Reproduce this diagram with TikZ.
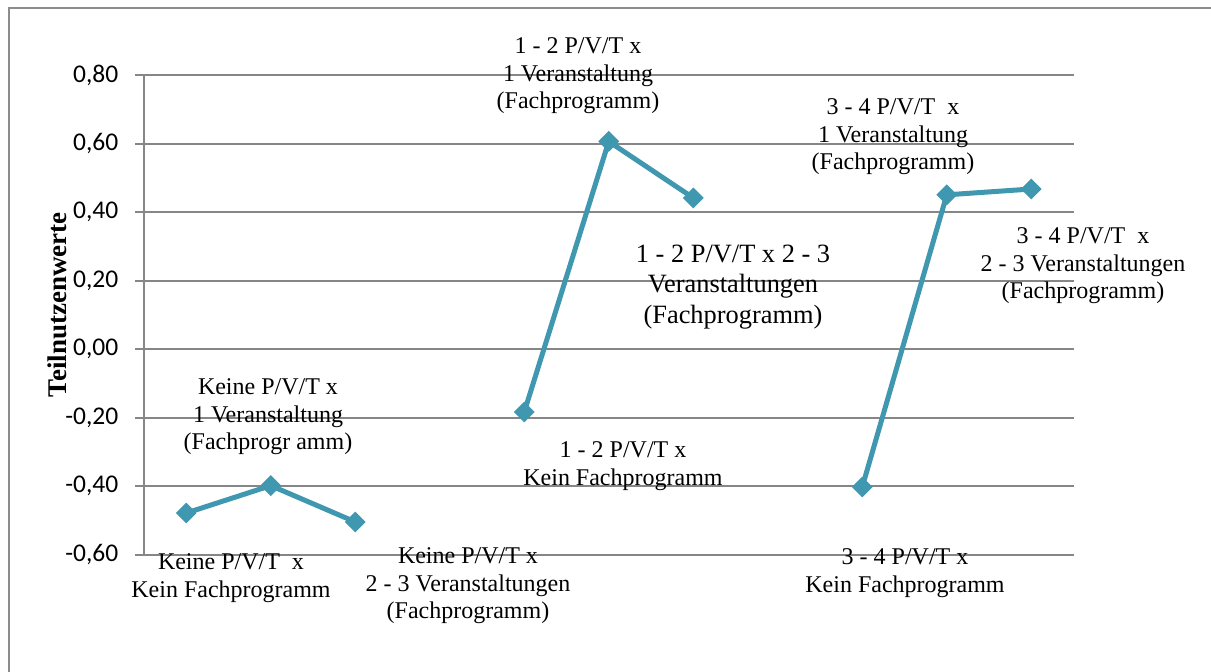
\documentclass[tikz,border=0pt]{standalone}
\usepackage{fontspec}
\setmainfont{Liberation Serif}
\newfontfamily\axisfont{Carlito}
\usetikzlibrary{shapes.geometric}

\definecolor{serieblue}{RGB}{64,152,176}
\definecolor{gridgrey}{RGB}{134,134,134}
\definecolor{framegrey}{RGB}{140,140,140}

\tikzset{
  gridline/.style={draw=gridgrey, line width=1.8pt},
  ticklabel/.style={anchor=east, inner sep=0pt, font=\axisfont\fontsize{25.5}{30}\selectfont},
  series/.style={draw=serieblue, line width=5pt, line join=round},
  marker/.style={diamond, fill=serieblue, inner sep=0pt, minimum width=21pt, minimum height=21pt},
  catlabel/.style={align=center, inner sep=0pt, font=\fontsize{24}{27.6}\selectfont},
  biglabel/.style={align=center, inner sep=0pt, font=\fontsize{26.4}{30.5}\selectfont},
}

% value -> vertical pixel position
\newcommand{\yv}[1]{349.3-342.5*(#1)}
% category index -> horizontal pixel position
\newcommand{\xc}[1]{186.25+84.5*(#1)}

\begin{document}
\begin{tikzpicture}[x=1pt, y=-1pt]
  \useasboundingbox (0,0) rectangle (1211,672);
  \fill[white] (0,0) rectangle (1211,672);

  % chart frame (left and top edges inside the page)
  \draw[framegrey, line width=2pt] (9,700) -- (9,8) -- (1230,8);

  % horizontal grid lines, ticks and value labels
  \foreach \v/\t in {0.8/{0,80}, 0.6/{0,60}, 0.4/{0,40}, 0.2/{0,20}, 0/{0,00},
                     -0.2/{-0,20}, -0.4/{-0,40}, -0.6/{-0,60}} {
    \draw[gridline] (135,{\yv{\v}}) -- (1073.5,{\yv{\v}});
    \node[ticklabel] at (118.5,{\yv{\v}}) {\t};
  }
  % value axis
  \draw[gridline] (144,{\yv{0.8}}) -- (144,{\yv{-0.6}});

  % axis title
  \node[rotate=90, inner sep=0pt, font=\bfseries\fontsize{27}{30}\selectfont] (ytitle) at (57,305) {Teilnutzenwerte};

  % data points
  \coordinate (a1) at ({\xc{0}},{\yv{-0.478}});
  \coordinate (a2) at ({\xc{1}},{\yv{-0.398}});
  \coordinate (a3) at ({\xc{2}},{\yv{-0.504}});
  \coordinate (b1) at ({\xc{4}},{\yv{-0.183}});
  \coordinate (b2) at ({\xc{5}},{\yv{0.607}});
  \coordinate (b3) at ({\xc{6}},{\yv{0.442}});
  \coordinate (c1) at ({\xc{8}},{\yv{-0.402}});
  \coordinate (c2) at ({\xc{9}},{\yv{0.451}});
  \coordinate (c3) at ({\xc{10}},{\yv{0.468}});

  \draw[series] (a1) -- (a2) -- (a3);
  \draw[series] (b1) -- (b2) -- (b3);
  \draw[series] (c1) -- (c2) -- (c3);

  \foreach \p in {a1,a2,a3,b1,b2,b3,c1,c2,c3}
    \node[marker] (m\p) at (\p) {};

  % point labels
  \node[catlabel] (la1) at (231,578) {Keine P/V/T\ \ x\\Kein Fachprogramm};
  \node[catlabel] (la2) at (268,417) {Keine P/V/T x\\1 Veranstaltung\\(Fachprogr amm)};
  \node[catlabel] (la3) at (468,586) {Keine P/V/T x\\2 - 3 Veranstaltungen\\(Fachprogramm)};
  \node[catlabel] (lb1) at (623,466) {1 - 2 P/V/T x\\Kein Fachprogramm};
  \node[catlabel] (lb2) at (578,76) {1 - 2 P/V/T x\\1 Veranstaltung\\(Fachprogramm)};
  \node[biglabel] (lb3) at (733,287) {1 - 2 P/V/T x 2 - 3\\Veranstaltungen\\(Fachprogramm)};
  \node[catlabel] (lc1) at (905,573) {3 - 4 P/V/T x\\Kein Fachprogramm};
  \node[catlabel] (lc2) at (893,137) {3 - 4 P/V/T\ \ x\\1 Veranstaltung\\(Fachprogramm)};
  \node[catlabel] (lc3) at (1083,266) {3 - 4 P/V/T\ \ x\\2 - 3 Veranstaltungen\\(Fachprogramm)};
\end{tikzpicture}
\end{document}
